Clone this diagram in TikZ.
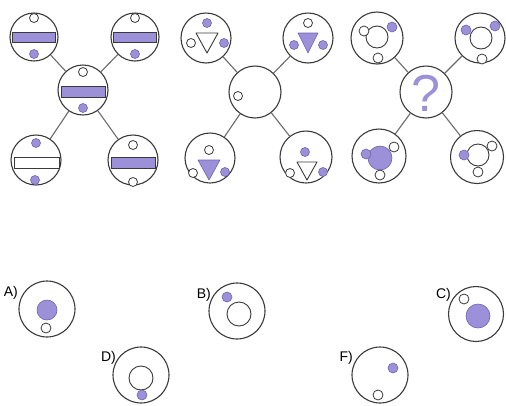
\documentclass[tikz,border=0pt]{standalone}
\usepackage{fontspec}
\setmainfont{Liberation Sans}
\definecolor{lav}{HTML}{9C90D8}
\definecolor{lavd}{HTML}{6F64B0}
\definecolor{ln}{HTML}{3A3A3A}
\begin{document}
\begin{tikzpicture}[x=1pt,y=-1pt,
  big/.style={circle,draw=ln,line width=1.1pt,fill=white,inner sep=0pt,minimum size=#1},
  big/.default=50pt,
  conn/.style={draw=ln!75,line width=1.1pt},
  wdot/.style={draw=ln,line width=0.8pt,fill=white},
  pdot/.style={draw=lavd,line width=0.6pt,fill=lav},
  lbl/.style={font=\fontsize{14}{14}\selectfont,inner sep=0pt}]
\useasboundingbox (0,0) rectangle (506,405);
% ---------------- Panel 1 ----------------
\node[big=50pt] (p1c) at (83,90) {};
\node[big=48pt] (p1tl) at (34,37) {};
\node[big=48pt] (p1tr) at (135,37) {};
\node[big=50pt] (p1bl) at (36,160) {};
\node[big=50pt] (p1br) at (133,160) {};
\foreach \n in {p1tl,p1tr,p1bl,p1br} \draw[conn] (p1c) -- (\n);
% top-left
\draw[wdot] (34,18) circle (4.5);
\draw[draw=ln,line width=0.8pt,fill=lav] (12.5,32) rectangle (55.5,42);
\draw[pdot] (34,54) circle (4.5);
% top-right
\draw[wdot] (135,18) circle (4.5);
\draw[draw=ln,line width=0.8pt,fill=lav] (113.5,32) rectangle (156.5,42);
\draw[pdot] (135,54) circle (4.5);
% center
\draw[wdot] (83,72) circle (4.5);
\draw[draw=ln,line width=0.8pt,fill=lav] (61,86) rectangle (105,97);
\draw[pdot] (83,108) circle (4.5);
% bottom-left
\draw[pdot] (36,143) circle (4.5);
\draw[draw=ln,line width=0.8pt,fill=white] (14,157) rectangle (59,168);
\draw[pdot] (35,180) circle (4.5);
% bottom-right
\draw[wdot] (133,145) circle (4.5);
\draw[draw=ln,line width=0.8pt,fill=lav] (111.5,157) rectangle (155,168);
\draw[wdot] (133,182) circle (4.5);
% ---------------- Panel 2 ----------------
\node[big=52pt] (p2c) at (255,92) {};
\node[big=50pt] (p2tl) at (206,38) {};
\node[big=50pt] (p2tr) at (308,38) {};
\node[big=50pt] (p2bl) at (210,158) {};
\node[big=52pt] (p2br) at (306,157) {};
\foreach \n in {p2tl,p2tr,p2bl,p2br} \draw[conn] (p2c) -- (\n);
% top-left
\draw[pdot] (207,23) circle (4.5);
\draw[draw=ln,line width=0.9pt,fill=white,line join=round] (196,33) -- (218,33) -- (207,53) -- cycle;
\draw[wdot] (191,43) circle (4.5);
\draw[pdot] (224,43) circle (4.5);
% top-right
\draw[wdot] (308,23) circle (4.5);
\draw[draw=lavd,line width=0.6pt,fill=lav,line join=round] (298,33) -- (318,33) -- (308,53) -- cycle;
\draw[pdot] (294,45) circle (4.5);
\draw[pdot] (323,45) circle (4.5);
% center
\draw[wdot] (238,96) circle (4.5);
% bottom-left
\draw[wdot] (209,150) circle (4.5);
\draw[draw=lavd,line width=0.6pt,fill=lav,line join=round] (198,160) -- (220,160) -- (209,180) -- cycle;
\draw[wdot] (193,173) circle (4.5);
\draw[pdot] (225,172) circle (4.5);
% bottom-right
\draw[pdot] (305,152) circle (4.5);
\draw[draw=ln,line width=0.9pt,fill=white,line join=round] (297,162) -- (317,162) -- (307,180) -- cycle;
\draw[wdot] (290,173) circle (4.5);
\draw[pdot] (323,172) circle (4.5);
% ---------------- Panel 3 ----------------
\node[big=52pt] (p3c) at (426,92) {};
\node[big=52pt] (p3tl) at (377,38) {};
\node[big=50pt] (p3tr) at (480,38) {};
\node[big=54pt] (p3bl) at (379,156) {};
\node[big=53pt] (p3br) at (477,157) {};
\foreach \n in {p3tl,p3tr,p3bl,p3br} \draw[conn] (p3c) -- (\n);
\node[text=lav,font=\fontsize{52}{52}\selectfont,inner sep=0pt] (q) at (426,93) {?};
% top-left
\draw[draw=ln,line width=0.9pt] (377,37) circle (11);
\draw[wdot] (364,31) circle (5);
\draw[pdot] (392,27) circle (5);
\draw[wdot] (378,58) circle (5);
% top-right
\draw[draw=ln,line width=0.9pt] (481,38) circle (11);
\draw[pdot] (466,30) circle (5);
\draw[pdot] (495,26) circle (5);
\draw[wdot] (482,59) circle (5);
% bottom-left
\draw[pdot] (380,158) circle (12);
\draw[pdot] (366,154) circle (5);
\draw[wdot] (394,147) circle (5);
\draw[wdot] (380,175) circle (5);
% bottom-right
\draw[draw=ln,line width=0.9pt] (478,155) circle (11);
\draw[pdot] (464,155) circle (5);
\draw[wdot] (492,146) circle (5);
\draw[wdot] (478,172) circle (5);
% ---------------- Options ----------------
\node[big=56pt] (oa) at (47,309) {};
\node[lbl,anchor=east] (la) at (18,293) {A)};
\draw[pdot] (47,310) circle (10);
\draw[wdot] (46,328) circle (5);

\node[big=56pt] (ob) at (237,311) {};
\node[lbl,anchor=east] (lb) at (211,295) {B)};
\draw[draw=ln,line width=0.9pt] (239,314) circle (12);
\draw[pdot] (227,297) circle (5);

\node[big=55pt] (oc) at (476,314) {};
\node[lbl,anchor=east] (lc) at (451,295) {C)};
\draw[pdot] (478,316) circle (12);
\draw[wdot] (464,299) circle (5);

\node[big=56pt] (od) at (141,375) {};
\node[lbl,anchor=east] (ld) at (116,358) {D)};
\draw[draw=ln,line width=0.9pt] (141,378) circle (12);
\draw[pdot] (142,395) circle (5);

\node[big=56pt] (of) at (380,375) {};
\node[lbl,anchor=east] (lf) at (353,358) {F)};
\draw[pdot] (393,368) circle (5);
\draw[wdot] (378,395) circle (5);
\end{tikzpicture}
\end{document}
